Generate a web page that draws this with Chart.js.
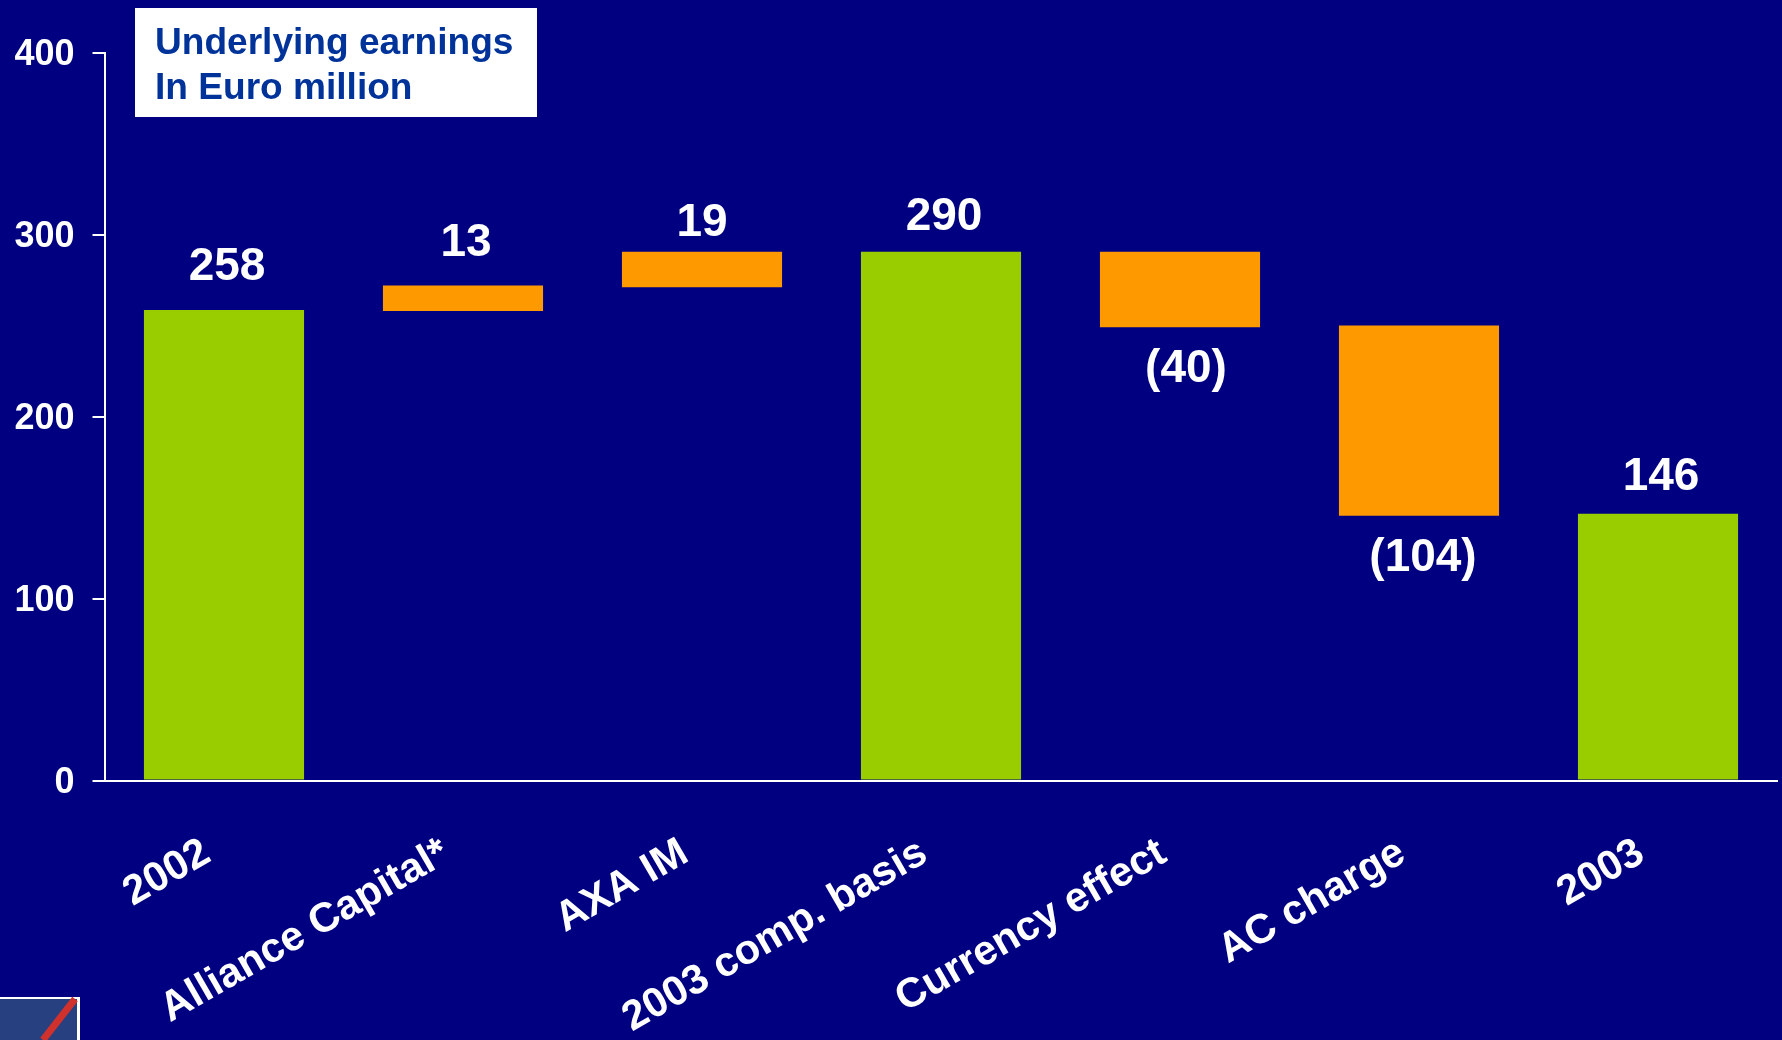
<!DOCTYPE html>
<html><head><meta charset="utf-8">
<style>html,body{margin:0;padding:0;background:#000080;overflow:hidden}canvas{display:block}</style>
<script src="https://cdn.jsdelivr.net/npm/chart.js@4"></script>
</head><body><canvas id="c" width="1782" height="1040"></canvas>
<script>
const categories=["2002","Alliance Capital*","AXA IM","2003 comp. basis","Currency effect","AC charge","2003"];
const barLow=[0,258,271,0,249,145.5,0];
const barHigh=[258.5,272,290.5,290.5,290.5,250,146.5];
const barKinds=["total","step","step","total","step","step","total"];
const valueLabels=["258","13","19","290","(40)","(104)","146"];
const labelSides=["above","above","above","above","below","below","above"];
const labelShiftX=[3,3,0,3,6,4,3];
const labelGap=[30,29,16,22,19,20,24];
const yTicks=[0,100,200,300,400];
const titleLines=["Underlying earnings","In Euro million"];
const kindColor={total:"#9ACD00",step:"#FF9900"};
const FF='"Liberation Sans",Arial,sans-serif';

const overlay={id:'overlay',afterDatasetsDraw(ch){
  const g=ch.ctx,x=ch.scales.x,y=ch.scales.y;
  g.save();
  g.fillStyle='#fff';g.font='bold 46px '+FF;g.textAlign='center';
  valueLabels.forEach((t,i)=>{
    const px=x.getPixelForValue(i)+labelShiftX[i];
    if(labelSides[i]==='above'){g.textBaseline='alphabetic';g.fillText(t,px,y.getPixelForValue(barHigh[i])-labelGap[i]);}
    else{g.textBaseline='top';g.fillText(t,px,y.getPixelForValue(barLow[i])+labelGap[i]);}
  });
  g.textBaseline='alphabetic';
  g.fillStyle='#fff';g.fillRect(135,8,402,109);
  g.fillStyle='#003399';g.font='bold 37.1px '+FF;g.textAlign='left';
  g.fillText(titleLines[0],155,54);g.fillText(titleLines[1],155,99);
  g.fillStyle='#fff';g.fillRect(0,997,80,43);
  g.fillStyle='#27407F';g.fillRect(0,999,77,41);
  g.strokeStyle='#D0312D';g.lineWidth=7;g.beginPath();g.moveTo(75,999);g.lineTo(43,1040);g.stroke();
  g.restore();
}};

new Chart(document.getElementById('c'),{
  type:'bar',
  data:{labels:categories,datasets:[{
    data:barLow.map((v,i)=>[v,barHigh[i]]),
    backgroundColor:barKinds.map(k=>kindColor[k]),
    borderWidth:0,barPercentage:0.67,categoryPercentage:1
  }]},
  options:{
    responsive:false,animation:false,
    layout:{padding:{top:52.5,right:4.5,left:0,bottom:0}},
    plugins:{legend:{display:false},tooltip:{enabled:false},title:{display:false}},
    scales:{
      x:{
        grid:{display:false},
        border:{display:true,color:'#fff',width:2},
        ticks:{color:'#fff',font:{family:FF,weight:'bold',size:41.5},minRotation:30,maxRotation:30,autoSkip:false,padding:40,labelOffset:-17},
        afterFit(s){s.height=259.5;s.paddingLeft=0;s.paddingRight=0;}
      },
      y:{
        min:0,max:400,
        afterBuildTicks(s){s.ticks=yTicks.map(v=>({value:v}));},
        grid:{drawOnChartArea:false,drawTicks:true,tickLength:12,color:'#fff',lineWidth:2},
        border:{display:true,color:'#fff',width:2},
        ticks:{color:'#fff',font:{family:FF,weight:'bold',size:36},padding:18,labelOffset:2.5},
        afterFit(s){s.width=104.5;s.paddingTop=0;s.paddingBottom=0;}
      }
    }
  },
  plugins:[overlay]
});
</script></body></html>
